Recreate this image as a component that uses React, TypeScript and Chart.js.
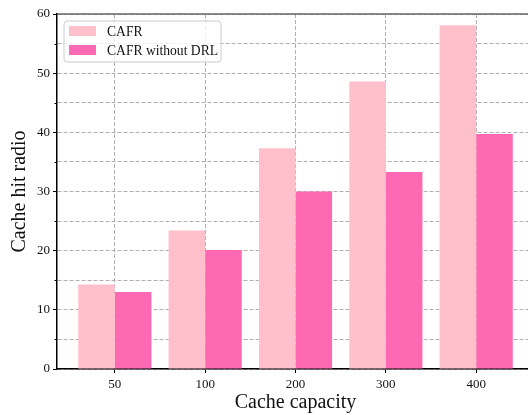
import React, { useEffect, useRef } from "react";
import { Chart, registerables } from "chart.js";

Chart.register(...registerables);

const categories = ["50", "100", "200", "300", "400"];
const cafr = [14.3, 23.4, 37.3, 48.6, 58.1];
const cafrNoDrl = [13.0, 20.1, 30.0, 33.3, 39.7];
const seriesLabels = ["CAFR", "CAFR without DRL"];
const seriesColors = ["#FFC0CB", "#FF69B4"];
const yTicks = [0, 10, 20, 30, 40, 50, 60];
const yMinorTicks = [5, 15, 25, 35, 45, 55];

const FONT = "'Liberation Serif', 'Times New Roman', serif";

const frameAndLegend = {
  id: "frameAndLegend",
  afterDraw(chart: any) {
    const { ctx, chartArea } = chart;
    ctx.save();
    ctx.setLineDash([]);
    // top spine
    ctx.strokeStyle = "#666666";
    ctx.lineWidth = 1.5;
    ctx.beginPath();
    ctx.moveTo(chartArea.left, chartArea.top);
    ctx.lineTo(chartArea.right, chartArea.top);
    ctx.stroke();

    // minor y ticks
    const yScale = chart.scales.y;
    ctx.strokeStyle = "#000000";
    ctx.lineWidth = 1;
    yMinorTicks.forEach((v) => {
      const py = Math.round(yScale.getPixelForValue(v)) + 0.5;
      ctx.beginPath();
      ctx.moveTo(chartArea.left - 2.5, py);
      ctx.lineTo(chartArea.left, py);
      ctx.stroke();
    });

    // legend inside plot
    const x0 = chartArea.left + 7;
    const y0 = chartArea.top + 7;
    const w = 157;
    const h = 41;
    ctx.fillStyle = "rgba(255,255,255,0.8)";
    ctx.strokeStyle = "#cccccc";
    ctx.lineWidth = 1;
    ctx.beginPath();
    const r = 3;
    ctx.moveTo(x0 + r, y0);
    ctx.lineTo(x0 + w - r, y0);
    ctx.arcTo(x0 + w, y0, x0 + w, y0 + r, r);
    ctx.lineTo(x0 + w, y0 + h - r);
    ctx.arcTo(x0 + w, y0 + h, x0 + w - r, y0 + h, r);
    ctx.lineTo(x0 + r, y0 + h);
    ctx.arcTo(x0, y0 + h, x0, y0 + h - r, r);
    ctx.lineTo(x0, y0 + r);
    ctx.arcTo(x0, y0, x0 + r, y0, r);
    ctx.closePath();
    ctx.fill();
    ctx.stroke();

    ctx.font = `13.6px ${FONT}`;
    ctx.textBaseline = "middle";
    ctx.textAlign = "left";
    chart.data.datasets.forEach((ds: any, i: number) => {
      const cy = y0 + 10 + i * 19;
      ctx.fillStyle = ds.backgroundColor;
      ctx.fillRect(x0 + 5, cy - 5, 27, 10);
      ctx.fillStyle = "#111111";
      ctx.fillText(ds.label, x0 + 43, cy + 1);
    });
    ctx.restore();
  },
};

export default function App() {
  const ref = useRef<HTMLCanvasElement>(null);

  useEffect(() => {
    if (!ref.current) return;
    const chart = new Chart(ref.current, {
      type: "bar",
      data: {
        datasets: [
          {
            label: seriesLabels[0],
            data: cafr.map((v, i) => ({ x: i, y: v })),
            backgroundColor: seriesColors[0],
            borderWidth: 0,
            categoryPercentage: 0.81,
            barPercentage: 1.0,
          },
          {
            label: seriesLabels[1],
            data: cafrNoDrl.map((v, i) => ({ x: i, y: v })),
            backgroundColor: seriesColors[1],
            borderWidth: 0,
            categoryPercentage: 0.81,
            barPercentage: 1.0,
          },
        ],
      },
      options: {
        animation: false,
        responsive: false,
        maintainAspectRatio: false,
        layout: { padding: { top: 14, right: 2, left: 0, bottom: 0 } },
        plugins: {
          legend: { display: false },
          tooltip: { enabled: false },
        },
        scales: {
          x: {
            type: "linear",
            offset: false,
            min: -0.64,
            max: 4.64,
            afterBuildTicks: (s: any) => {
              s.ticks = categories.map((_, i) => ({ value: i }));
            },
            afterFit: (s: any) => {
              s.height = 46;
            },
            ticks: {
              callback: (v: any) => categories[v as number] ?? "",
              color: "#111111",
              font: { family: FONT, size: 13 },
              padding: 4,
              maxRotation: 0,
            },
            grid: {
              offset: false,
              color: "#b0b0b0",
              lineWidth: 1,
              drawTicks: true,
              tickLength: 4,
              tickColor: "#000000",
            },
            border: { display: true, color: "#000000", width: 1.5, dash: [4, 2] },
            title: {
              display: true,
              text: "Cache capacity",
              color: "#111111",
              font: { family: FONT, size: 20 },
              padding: { top: 0, bottom: 0 },
            },
          },
          y: {
            min: 0,
            max: 60,
            afterBuildTicks: (s: any) => {
              const t: any[] = [];
              for (let v = 0; v <= 60; v += 5) t.push({ value: v });
              s.ticks = t;
            },
            afterFit: (s: any) => {
              s.width = 57;
            },
            ticks: {
              callback: (v: any) => (yTicks.includes(v as number) ? String(v) : ""),
              color: "#111111",
              font: { family: FONT, size: 13 },
              padding: 3,
            },
            grid: {
              color: "#b0b0b0",
              lineWidth: 1,
              drawTicks: true,
              tickLength: 4,
              tickColor: (c: any) =>
                c.tick && yTicks.includes(c.tick.value) ? "#000000" : "rgba(0,0,0,0)",
            },
            border: { display: true, color: "#000000", width: 1.5, dash: [4, 2] },
            title: {
              display: true,
              text: "Cache hit radio",
              color: "#111111",
              font: { family: FONT, size: 20 },
              padding: { top: 8, bottom: 0 },
            },
          },
        },
      },
      plugins: [frameAndLegend],
    } as any);

    return () => chart.destroy();
  }, []);

  return (
    <div
      style={{
        position: "fixed",
        left: 0,
        top: 0,
        width: 528,
        height: 415,
        overflow: "hidden",
        background: "#ffffff",
      }}
    >
      <canvas ref={ref} width={536} height={415} style={{ width: 536, height: 415 }} />
    </div>
  );
}
